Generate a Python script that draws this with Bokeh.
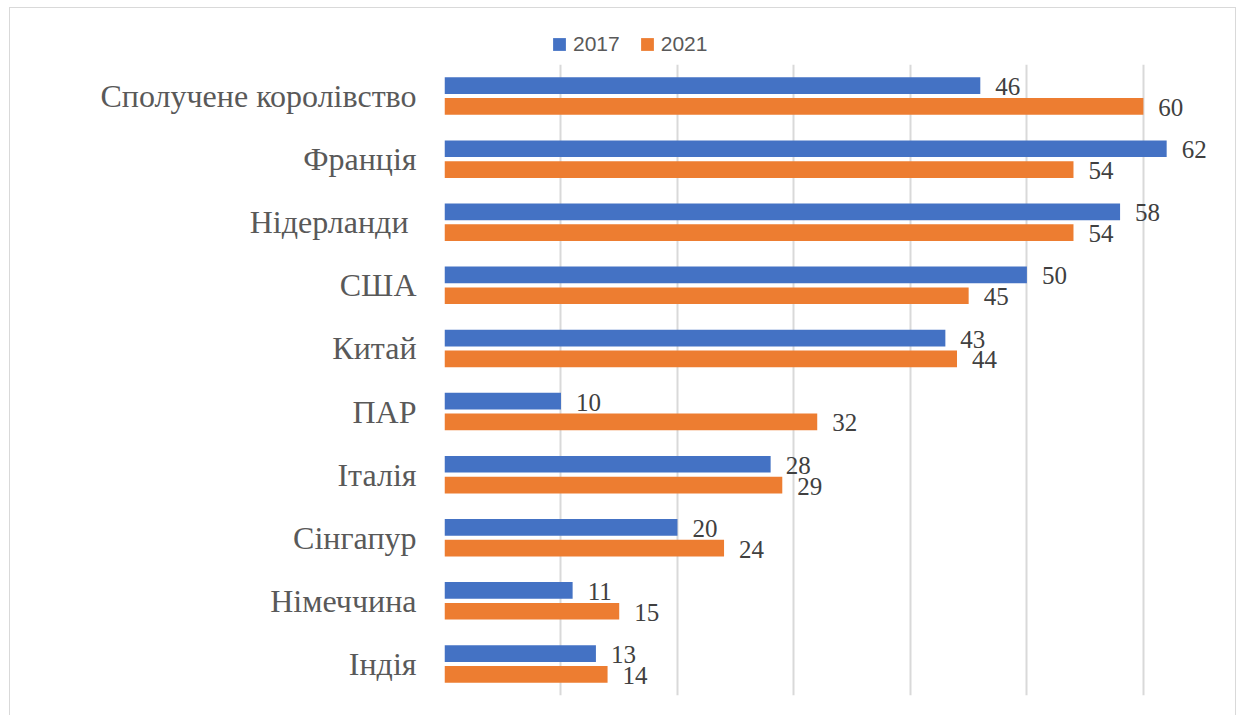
from bokeh.plotting import figure
from bokeh.layouts import column
from bokeh.models import FactorRange, ColumnDataSource, Legend, LegendItem, SingleIntervalTicker, Range1d
from bokeh.transform import dodge
from bokeh.core.properties import value
from bokeh.embed import file_html
from bokeh.resources import INLINE

categories = ["Сполучене королівство", "Франція", "Нідерланди ", "США", "Китай",
              "ПАР", "Італія", "Сінгапур", "Німеччина", "Індія"]
values_2017 = [46, 62, 58, 50, 43, 10, 28, 20, 11, 13]
values_2021 = [60, 54, 54, 45, 44, 32, 29, 24, 15, 14]
series_names = ["2017", "2021"]
colors = ["#4472C4", "#ED7D31"]

src = ColumnDataSource(dict(cat=categories, v17=values_2017, v21=values_2021,
                            l17=[str(v) for v in values_2017],
                            l21=[str(v) for v in values_2021]))

W = 1225

# ---- legend strip ----
lf = figure(width=W, height=56, output_backend="svg", toolbar_location=None,
            x_range=Range1d(0, 1), y_range=Range1d(0, 1),
            min_border_left=0, min_border_right=0, min_border_top=0, min_border_bottom=0)
lf.axis.visible = False
lf.grid.visible = False
lf.outline_line_color = None
# zero-area quads: they only supply the legend swatches
lq1 = lf.quad(left="v17", right="v17", top=0, bottom=0, source=src,
              fill_color=colors[0], line_color=None)
lq2 = lf.quad(left="v21", right="v21", top=0, bottom=0, source=src,
              fill_color=colors[1], line_color=None)
legend = Legend(items=[LegendItem(label=series_names[0], renderers=[lq1]),
                       LegendItem(label=series_names[1], renderers=[lq2])],
                orientation="horizontal", location=(107, 8),
                label_text_font="Liberation Sans", label_text_font_size="21px",
                label_text_color="#595959", glyph_width=16, glyph_height=16,
                spacing=19, label_standoff=6, border_line_color=None,
                background_fill_alpha=0, padding=0, margin=0)
lf.add_layout(legend, "center")

# ---- main chart ----
p = figure(width=W, height=651, output_backend="svg", toolbar_location=None,
           y_range=FactorRange(factors=list(reversed(categories))),
           x_range=Range1d(0, 67.48),
           min_border_left=434, min_border_right=5, min_border_top=0, min_border_bottom=20)
p.outline_line_color = None

r1 = p.hbar(y=dodge("cat", 0.165, range=p.y_range), right="v17", left=0, height=0.265,
            source=src, fill_color=colors[0], line_color=None)
r2 = p.hbar(y=dodge("cat", -0.165, range=p.y_range), right="v21", left=0, height=0.265,
            source=src, fill_color=colors[1], line_color=None)

lab_font = value("Liberation Serif")
p.text(x="v17", y=dodge("cat", 0.165, range=p.y_range), text="l17", source=src,
       x_offset=15, y_offset=1, text_font=lab_font, text_font_size="25px",
       text_color="#404040", text_baseline="middle", text_align="left")
p.text(x="v21", y=dodge("cat", -0.165, range=p.y_range), text="l21", source=src,
       x_offset=15, y_offset=1, text_font=lab_font, text_font_size="25px",
       text_color="#404040", text_baseline="middle", text_align="left")

p.xaxis.visible = False
p.xgrid.ticker = SingleIntervalTicker(interval=10)
p.xgrid.grid_line_color = "#D9D9D9"
p.xgrid.grid_line_width = 2
p.ygrid.grid_line_color = None

ax = p.yaxis[0]
ax.axis_line_color = None
ax.major_tick_line_color = None
ax.minor_tick_line_color = None
ax.major_label_text_font = "Liberation Serif"
ax.major_label_text_font_size = "32px"
ax.major_label_text_color = "#595959"
ax.major_label_standoff = 22

layout = column(lf, p, spacing=0,
                styles={"border": "1px solid #D9D9D9", "margin-left": "9px", "margin-top": "7px"})

open("out.html", "w").write(file_html(layout, INLINE))
